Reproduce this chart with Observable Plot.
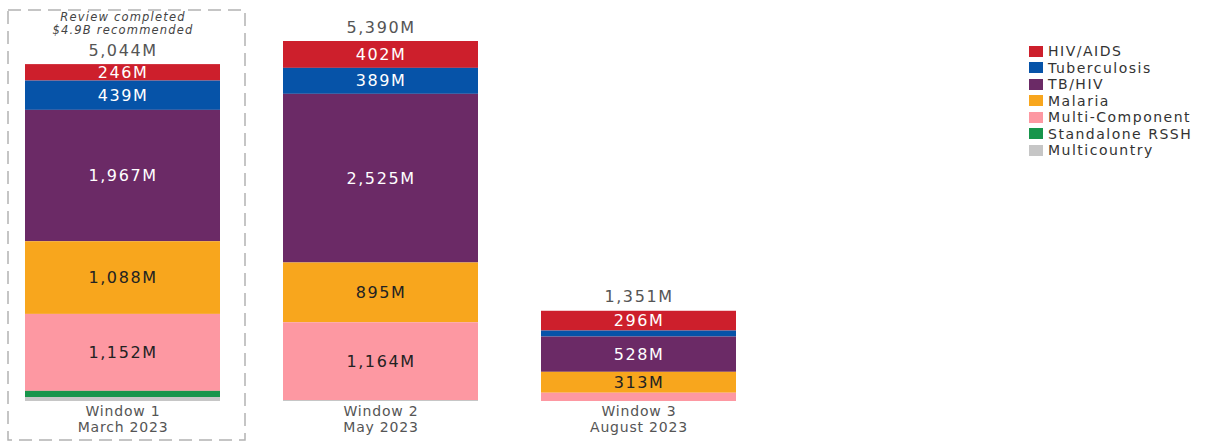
<!DOCTYPE html>
<html><head><meta charset="utf-8">
<script src="https://cdn.jsdelivr.net/npm/d3@7"></script>
<script src="https://cdn.jsdelivr.net/npm/@observablehq/plot@0.6"></script>
<style>
body{margin:0;background:#fff;font-family:"DejaVu Sans",sans-serif;}
#wrap{position:relative;width:1214px;height:444px;overflow:hidden;}
#legend{position:absolute;left:1029px;top:43px;font-size:14px;color:#333;letter-spacing:1.5px;}
.row{display:flex;align-items:center;height:16.5px;white-space:nowrap;}
.sw{width:14px;height:11px;margin-right:5px;flex:none;}
g[font-size="16"] text{letter-spacing:1.6px;}
g[font-size="11.5"] text{letter-spacing:1.2px;}
g[font-size="14"] text{letter-spacing:0.8px;}
</style></head>
<body><div id="wrap"><div id="chart"></div><div id="legend"></div></div>
<script>
const windows = ["Window 1","Window 2","Window 3"];
const windowDates = ["March 2023","May 2023","August 2023"];
const causes = ["HIV/AIDS","Tuberculosis","TB/HIV","Malaria","Multi-Component","Standalone RSSH","Multicountry"];
const colors = ["#cd1f2c","#0653a8","#6b2a66","#f8a61d","#fd98a2","#17954b","#c6c6c6"];
const hivAids = [246,402,296];
const tuberculosis = [439,389,90];
const tbHiv = [1967,2525,528];
const malaria = [1088,895,313];
const multiComponent = [1152,1164,124];
const standaloneRSSH = [92,0,0];
const multicountry = [60,15,0];
const annotation = "Review completed\n$4.9B recommended";

const series = [hivAids,tuberculosis,tbHiv,malaria,multiComponent,standaloneRSSH,multicountry];
const data = [];
windows.forEach((w,i)=>causes.forEach((c,j)=>data.push({window:w, cause:c, value:series[j][i]})));
const totals = windows.map((w,i)=>d3.sum(series,s=>s[i]));
const fmt = d3.format(",");
const stackOrder = [...causes].reverse();
const darkText = new Set(["Malaria","Multi-Component"]);
const labelText = d => d.value > 200 ? fmt(d.value)+"M" : "";

const chart = Plot.plot({
  width:1214, height:444,
  marginLeft:12, marginRight:465, marginTop:41, marginBottom:43,
  style:{fontFamily:"DejaVu Sans, sans-serif", background:"#fff"},
  x:{domain:windows, paddingInner:0.244, paddingOuter:0.05, axis:null},
  y:{domain:[0,d3.max(totals)], axis:null},
  color:{domain:causes, range:colors},
  marks:[
    Plot.barY([windows[0]], {x:d=>d, y1:0, y2:d3.max(totals), insetLeft:-17, insetRight:-25, insetTop:-31, insetBottom:-39,
      fill:"none", stroke:"#b3b3b3", strokeWidth:1.5, strokeDasharray:"13,7"}),
    Plot.barY(data, {x:"window", y:"value", fill:"cause", order:stackOrder}),
    Plot.text(data, Plot.stackY({x:"window", y:"value", z:"cause", order:stackOrder,
      text:d=>darkText.has(d.cause)?"":labelText(d), fill:"#fff", fontSize:16})),
    Plot.text(data, Plot.stackY({x:"window", y:"value", z:"cause", order:stackOrder,
      text:d=>darkText.has(d.cause)?labelText(d):"", fill:"#222", fontSize:16})),
    Plot.text(windows, {x:d=>d, y:(d,i)=>totals[i], text:(d,i)=>fmt(totals[i])+"M", dy:-14, fontSize:16, fill:"#555"}),
    Plot.text([annotation], {x:()=>windows[0], y:()=>totals[0], text:d=>d, dy:-41, fontSize:11.5, fontStyle:"italic", lineHeight:1.05, fill:"#444"}),
    Plot.text(windows, {x:d=>d, frameAnchor:"bottom", lineAnchor:"top", dy:3, text:(d,i)=>d+"\n"+windowDates[i], fontSize:14, lineHeight:1.15, fill:"#555"})
  ]
});
document.getElementById("chart").appendChild(chart);

const legend = document.getElementById("legend");
causes.forEach((c,i)=>{
  const row = document.createElement("div"); row.className="row";
  const sw = document.createElement("span"); sw.className="sw"; sw.style.background=colors[i];
  const t = document.createElement("span"); t.textContent=c;
  row.appendChild(sw); row.appendChild(t); legend.appendChild(row);
});
</script>
</body></html>
